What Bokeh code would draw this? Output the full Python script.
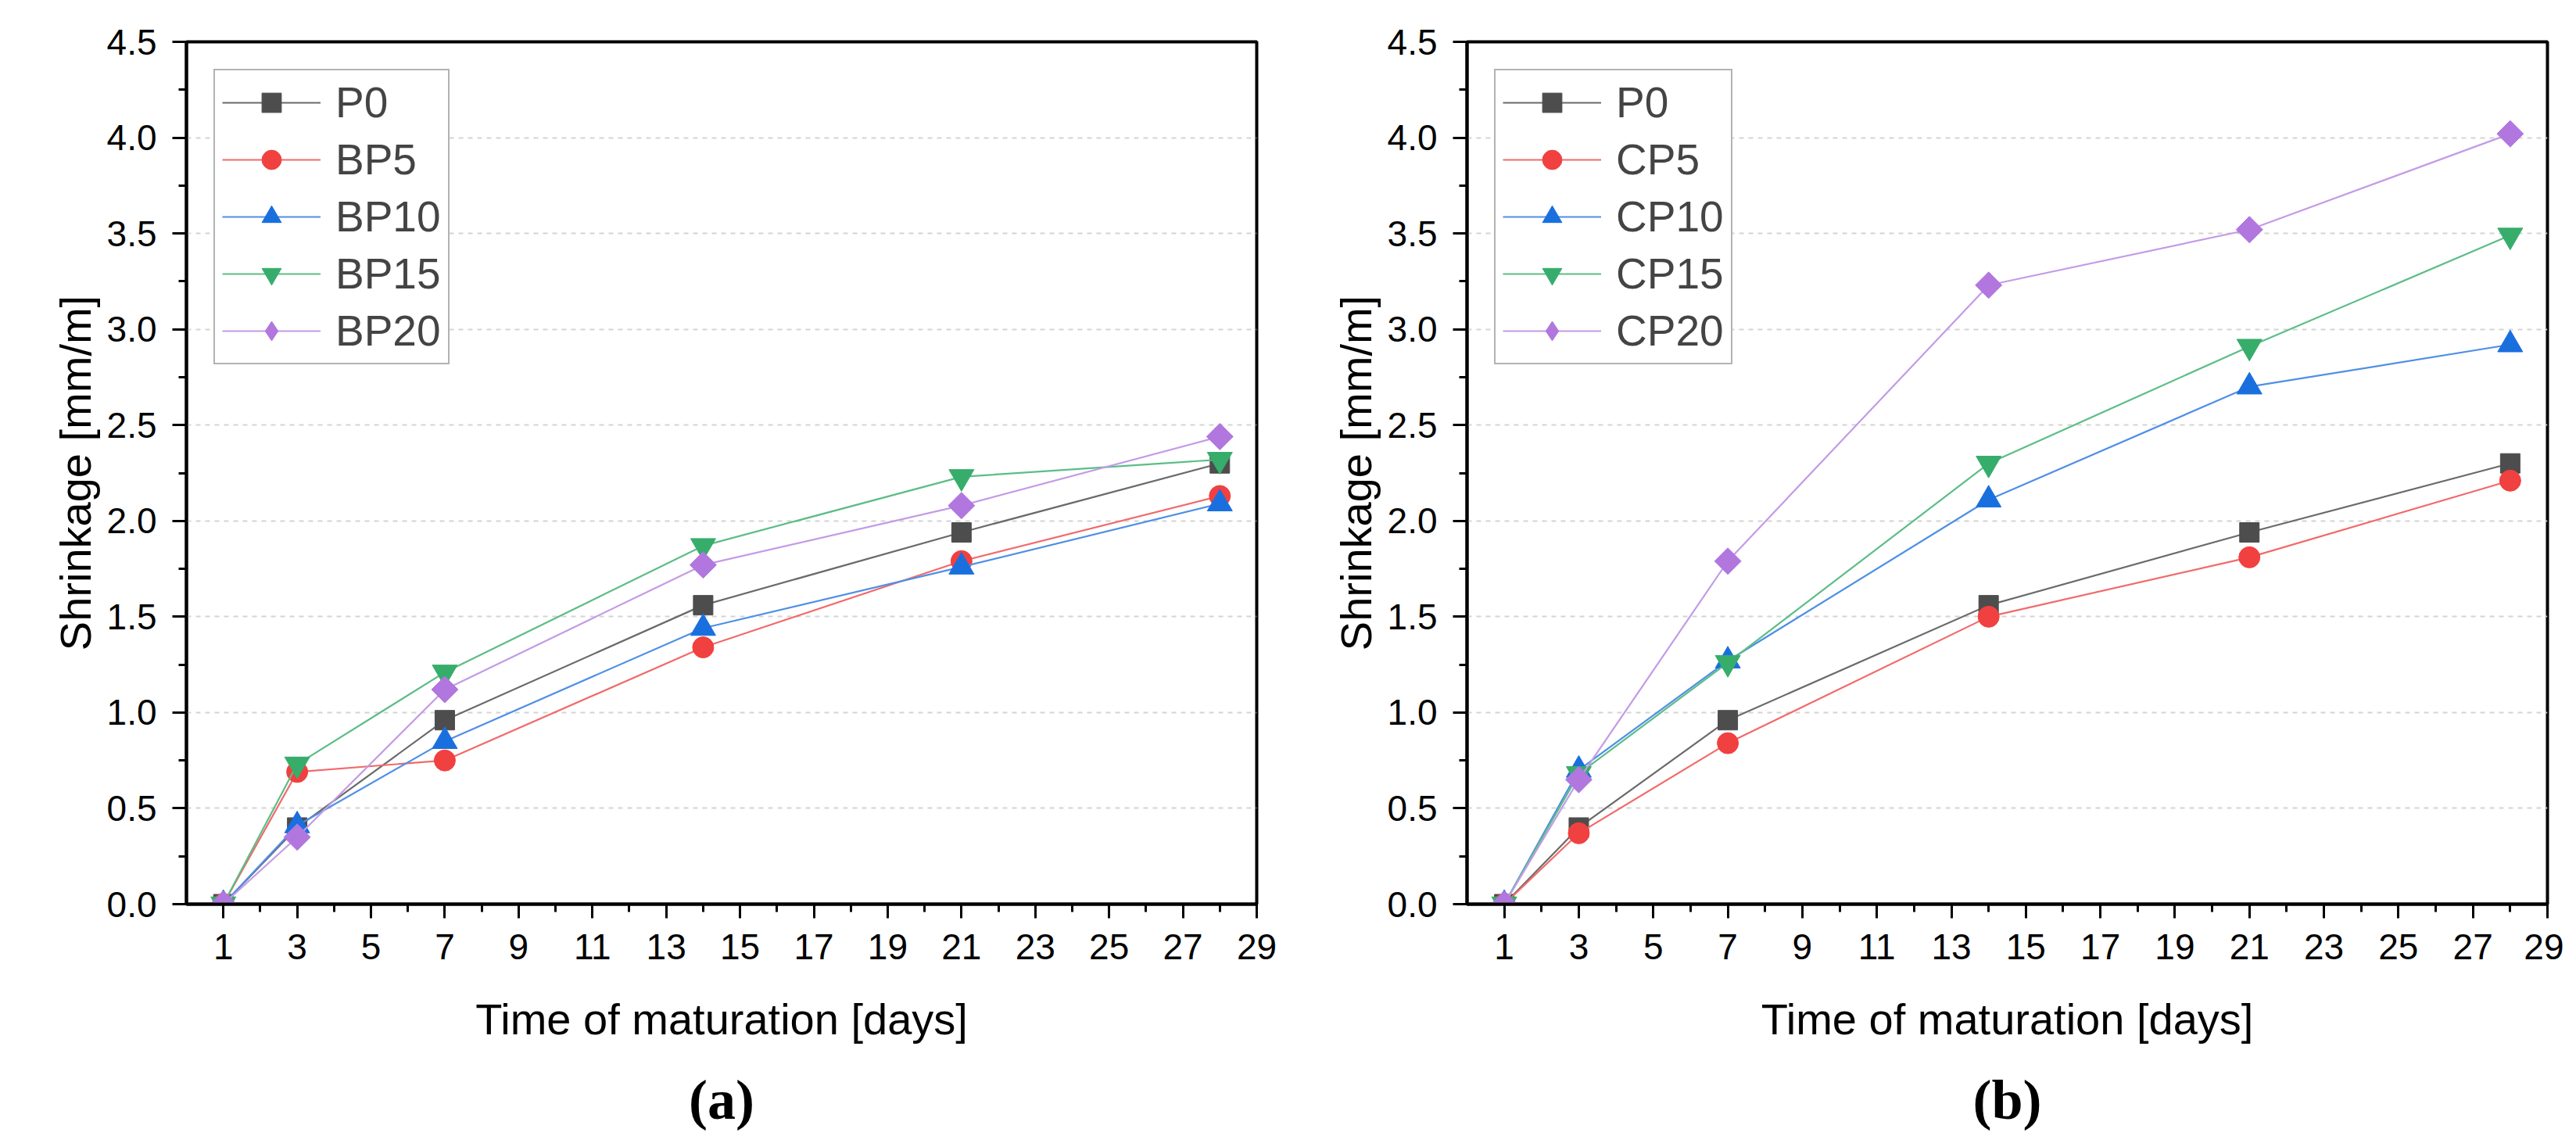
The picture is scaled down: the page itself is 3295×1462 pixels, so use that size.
import math
from bokeh.plotting import figure
from bokeh.layouts import row
from bokeh.models import FixedTicker, Legend, LegendItem, Title, Range1d, CustomJSTickFormatter
from bokeh.embed import file_html
from bokeh.resources import INLINE

days = [1, 3, 7, 14, 21, 28]
p0 = [0, 0.40, 0.96, 1.56, 1.94, 2.30]
bp5 = [0, 0.69, 0.75, 1.34, 1.79, 2.13]
bp10 = [0, 0.41, 0.85, 1.44, 1.76, 2.09]
bp15 = [0, 0.73, 1.21, 1.87, 2.23, 2.32]
bp20 = [0, 0.35, 1.12, 1.77, 2.08, 2.44]
cp5 = [0, 0.37, 0.84, 1.50, 1.81, 2.21]
cp10 = [0, 0.70, 1.27, 2.11, 2.70, 2.92]
cp15 = [0, 0.68, 1.26, 2.30, 2.91, 3.49]
cp20 = [0, 0.65, 1.79, 3.23, 3.52, 4.02]

x_ticks = list(range(1, 30, 2))
x_minor = list(range(2, 29, 2))
y_ticks = [0.0, 0.5, 1.0, 1.5, 2.0, 2.5, 3.0, 3.5, 4.0, 4.5]
y_minor = [0.25, 0.75, 1.25, 1.75, 2.25, 2.75, 3.25, 3.75, 4.25]

styles = [
    dict(marker="square", color="#4d4d4d", line="#6a6a6a", size=25, angle=0, leg="square"),
    dict(marker="circle", color="#f14040", line="#f26a6a", size=27, angle=0, leg="circle"),
    dict(marker="triangle", color="#1a6fdf", line="#4f8fe6", size=32, angle=0, leg="triangle"),
    dict(marker="inverted_triangle", color="#37ad6b", line="#5cbd87", size=32, angle=0, leg="inverted_triangle"),
    dict(marker="square", color="#b177de", line="#c49be6", size=24, angle=math.pi / 4, leg="diamond"),
]

FONT = "Liberation Sans"


def make_plot(series, names, caption, left_border, frame_w, right_border):
    p = figure(output_backend="svg", toolbar_location=None,
               frame_width=frame_w, frame_height=1103,
               min_border_left=left_border, min_border_right=right_border,
               min_border_top=53, min_border_bottom=240,
               x_range=Range1d(0, 29), y_range=Range1d(0, 4.5),
               background_fill_color="white", border_fill_color="white")
    p.outline_line_color = "black"
    p.outline_line_width = 4
    p.xgrid.grid_line_color = None
    p.ygrid.grid_line_color = "#d4d4d4"
    p.ygrid.grid_line_dash = "6 6"
    p.ygrid.grid_line_width = 2
    p.xaxis.ticker = FixedTicker(ticks=x_ticks, minor_ticks=x_minor)
    p.yaxis.ticker = FixedTicker(ticks=y_ticks, minor_ticks=y_minor)
    p.ygrid.ticker = FixedTicker(ticks=y_ticks[1:-1])
    p.yaxis.formatter = CustomJSTickFormatter(code="return tick.toFixed(1);")
    for ax in (p.xaxis[0], p.yaxis[0]):
        ax.axis_line_color = "black"
        ax.axis_line_width = 4
        ax.major_tick_line_color = "black"
        ax.major_tick_line_width = 3
        ax.major_tick_out = 18
        ax.major_tick_in = 0
        ax.minor_tick_line_color = "black"
        ax.minor_tick_line_width = 3
        ax.minor_tick_out = 10
        ax.minor_tick_in = 0
        ax.major_label_text_font = FONT
        ax.major_label_text_font_size = "46px"
        ax.major_label_text_color = "black"
        ax.axis_label_text_font = FONT
        ax.axis_label_text_font_size = "56px"
        ax.axis_label_text_font_style = "normal"
        ax.axis_label_text_color = "black"
    p.xaxis.major_label_standoff = 20
    p.yaxis.major_label_standoff = 20
    p.xaxis.axis_label = "Time of maturation [days]"
    p.yaxis.axis_label = "Shrinkage [mm/m]"
    p.xaxis.axis_label_standoff = 42
    p.yaxis.axis_label_standoff = 6

    items = []
    for vals, name, st in zip(series, names, styles):
        ln = p.line(days, vals, line_color=st["line"], line_width=2.2)
        leg_r = None
        if st["leg"] != st["marker"]:
            # same points, drawn underneath the rotated squares; used for the legend key
            leg_r = p.scatter(days, vals, marker=st["leg"], fill_color=st["color"],
                              line_color=st["color"], size=st["size"])
        sc = p.scatter(days, vals, marker=st["marker"], size=st["size"],
                       angle=st["angle"], fill_color=st["color"],
                       line_color=st["color"])
        items.append(LegendItem(label=name, renderers=[ln, leg_r if leg_r is not None else sc]))
    legend = Legend(items=items, location="top_left", margin=35,
                    label_text_font=FONT, label_text_font_size="55px",
                    glyph_width=126, glyph_height=62, label_height=62,
                    spacing=9, padding=9, label_standoff=19,
                    border_line_color="#666666", border_line_width=2,
                    background_fill_color="white", background_fill_alpha=1)
    p.add_layout(legend, "center")
    p.add_layout(Title(text=caption, align="center", text_font="Liberation Serif",
                       text_font_size="72px", text_font_style="bold",
                       text_color="black", standoff=54), "below")
    return p


p1 = make_plot([p0, bp5, bp10, bp15, bp20], ["P0", "BP5", "BP10", "BP15", "BP20"],
               "(a)", 238, 1369, 33)
p2 = make_plot([p0, cp5, cp10, cp15, cp20], ["P0", "CP5", "CP10", "CP15", "CP20"],
               "(b)", 236, 1382, 21)

layout = row(p1, p2, spacing=0)
html = file_html(layout, INLINE)
html = html.replace("<head>", "<head><style>html,body{overflow:hidden;}</style>", 1)
open("out.html", "w").write(html)
